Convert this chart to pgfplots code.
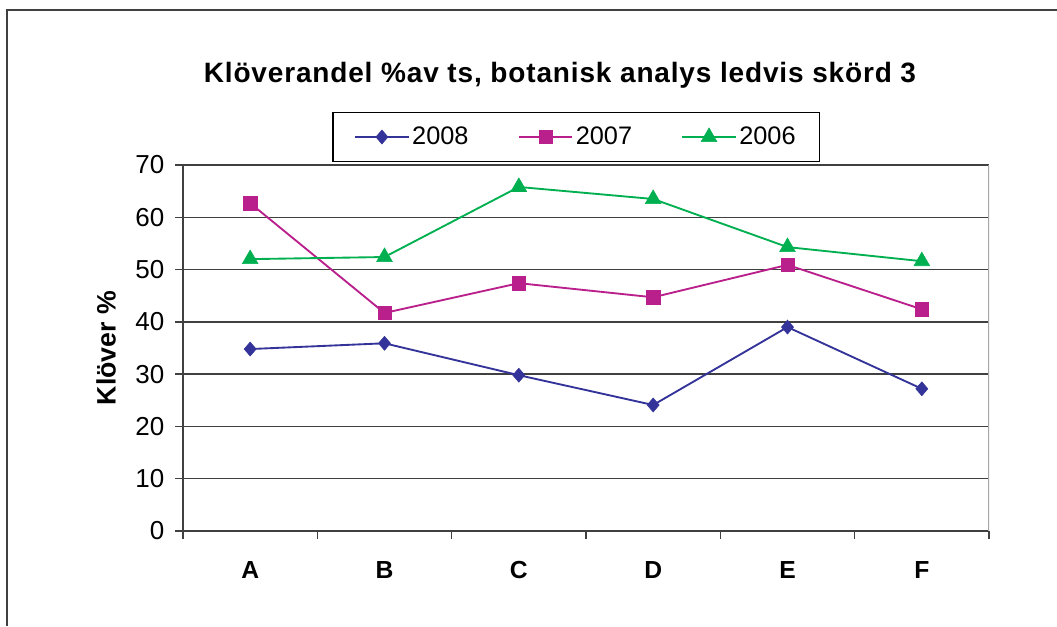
\documentclass[border=0pt]{standalone}
\usepackage{fontspec}
\setmainfont{Liberation Sans}
\newfontfamily\titlefont[LetterSpace=3]{Liberation Sans}
\usepackage{pgfplots}
\pgfplotsset{compat=1.18}
\definecolor{c2008}{RGB}{51,51,153}
\definecolor{c2007}{RGB}{185,32,140}
\definecolor{c2006}{RGB}{0,176,80}
\definecolor{gridc}{RGB}{64,64,64}
\begin{document}
\begin{tikzpicture}[x=0.75pt,y=0.75pt]
\path[use as bounding box] (0,0) rectangle (1057,626);
\draw[line width=1.1pt, color=gridc] (7,0) -- (7,616) -- (1057,616);
\node[anchor=base, font=\titlefont\bfseries\fontsize{21}{23}\selectfont] at (560,543) {Klöverandel \%av ts, botanisk analys ledvis skörd 3};
\begin{axis}[
  at={(137.25pt,71.25pt)}, anchor=south west,
  scale only axis, width=604.5pt, height=274.5pt,
  xmin=-0.5, xmax=5.5, ymin=0, ymax=70,
  xtick={-0.5,0.5,1.5,2.5,3.5,4.5,5.5},
  x tick label as interval,
  xticklabels={A,B,C,D,E,F},
  ytick={0,10,...,70},
  axis lines*=left,
  axis line style={gridc, line width=1pt},
  ymajorgrids, grid style={gridc, line width=1pt},
  tick style={gridc, line width=1pt},
  major tick length=6pt, tick align=outside,
  /pgf/number format/assume math mode=true,
  yticklabel style={font=\fontsize{19.5}{21}\selectfont, xshift=-4.5pt},
  xticklabel style={font=\bfseries\fontsize{18.5}{20}\selectfont, yshift=-13pt},
  ylabel={Klöver \%},
  ylabel style={font=\bfseries\fontsize{20}{22}\selectfont, at={(axis description cs:-0.0955,0.5)}, anchor=center},
  legend columns=3,
  legend style={at={(axis description cs:0.488,1.0765)}, anchor=center,
    draw=black, line width=0.8pt, font=\fontsize{19}{21}\selectfont,
    /tikz/every even column/.append style={column sep=35pt},
    inner xsep=16pt, inner ysep=9pt},
  legend image code/.code={\draw[mark repeat=2,mark phase=2] plot coordinates {(0pt,0pt)(20pt,0pt)(40pt,0pt)};},
  every axis plot/.append style={line width=1.4pt},
]
\addplot[c2008, mark=diamond*, mark size=5.25pt, mark options={solid, xscale=1.15, line width=0.4pt, fill=c2008, draw=c2008}]
  coordinates {(0,34.8) (1,35.9) (2,29.8) (3,24.1) (4,39.0) (5,27.2)};
\addlegendentry{2008}
\addplot[c2007, mark=square*, mark size=5pt, mark options={solid, line width=0.4pt, fill=c2007, draw=c2007}]
  coordinates {(0,62.7) (1,41.7) (2,47.4) (3,44.7) (4,50.9) (5,42.4)};
\addlegendentry{2007}
\addplot[c2006, mark=triangle*, mark size=6.8pt, mark options={solid, line width=0.4pt, fill=c2006, draw=c2006}]
  coordinates {(0,52.0) (1,52.4) (2,65.8) (3,63.5) (4,54.3) (5,51.6)};
\addlegendentry{2006}
\draw[gray!70, line width=1.2pt] (rel axis cs:1,0) -- (rel axis cs:1,1);
\end{axis}
\end{tikzpicture}
\end{document}
